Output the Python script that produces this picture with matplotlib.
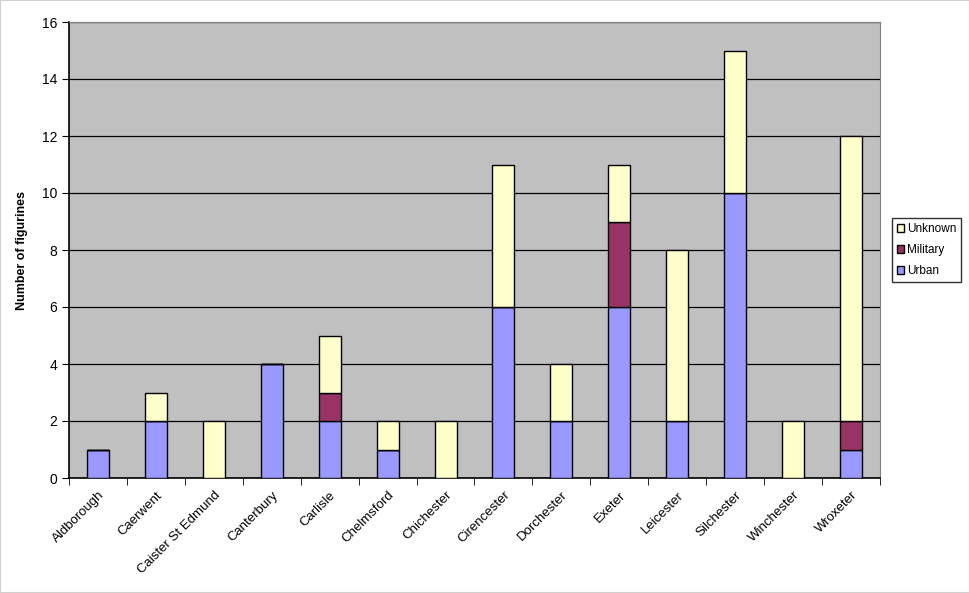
import matplotlib
matplotlib.use("Agg")
import matplotlib.pyplot as plt
import numpy as np

categories = ["Aldborough", "Caerwent", "Caister St Edmund", "Canterbury", "Carlisle",
              "Chelmsford", "Chichester", "Cirencester", "Dorchester", "Exeter",
              "Leicester", "Silchester", "Winchester", "Wroxeter"]
urban =    [1, 2, 0, 4, 2, 1, 0, 6, 2, 6, 2, 10, 0, 1]
military = [0, 0, 0, 0, 1, 0, 0, 0, 0, 3, 0, 0, 0, 1]
unknown =  [0, 1, 2, 0, 2, 1, 2, 5, 2, 2, 6, 5, 2, 10]
yticks = [0, 2, 4, 6, 8, 10, 12, 14, 16]

plt.rcParams['font.family'] = ['Liberation Sans', 'DejaVu Sans']

fig = plt.figure(figsize=(9.70, 5.93), dpi=100)
ax = fig.add_axes([69/970, 1-478/593, 811/970, 456/593])
ax.set_facecolor('#C0C0C0')

x = np.arange(len(categories))
u = np.array(urban); m = np.array(military); k = np.array(unknown)
w = 0.38
ax.bar(x, u, w, color='#9999FF', edgecolor='black', linewidth=1, label='Urban', zorder=3)
ax.bar(x, m, w, bottom=u, color='#993366', edgecolor='black', linewidth=1, label='Military', zorder=3)
ax.bar(x, k, w, bottom=u+m, color='#FFFFCC', edgecolor='black', linewidth=1, label='Unknown', zorder=3)

ax.set_xlim(-0.5, len(categories)-0.5)
ax.set_ylim(0, 16)
ax.set_yticks(yticks)
ax.yaxis.grid(True, color='black', linewidth=0.9, zorder=1)
ax.set_axisbelow(True)
ax.tick_params(axis='y', direction='out', length=5, labelsize=10, colors='black')
ax.set_xticks(x)
ax.set_xticklabels(categories, rotation=45, ha='right', rotation_mode='anchor', fontsize=9.5)
ax.tick_params(axis='x', which='major', length=0, pad=8)
ax.set_xticks(np.arange(-0.5, len(categories)), minor=True)
ax.tick_params(axis='x', which='minor', direction='out', length=5, color='black')
ax.set_ylabel('Number of figurines', fontsize=9, fontweight='bold', labelpad=10)

for s in ['top', 'right']:
    ax.spines[s].set_color('#808080')
for s in ['left', 'bottom']:
    ax.spines[s].set_color('black')
    ax.spines[s].set_linewidth(1.2)

handles, labels = ax.get_legend_handles_labels()
leg = fig.legend(handles[::-1], labels[::-1], loc='upper left',
                 bbox_to_anchor=(892/970, 1-218/593), fontsize=8.5,
                 frameon=True, fancybox=False, edgecolor='black',
                 handlelength=0.6, handleheight=0.6, handletextpad=0.2,
                 borderpad=0.45, labelspacing=0.75, borderaxespad=0)
leg.get_frame().set_linewidth(1)

fig.patches.append(plt.Rectangle((0, 0), 1, 1, transform=fig.transFigure,
                                 fill=False, edgecolor='#D0D0D0', linewidth=1.5))
fig.savefig('out.png', dpi=100)
